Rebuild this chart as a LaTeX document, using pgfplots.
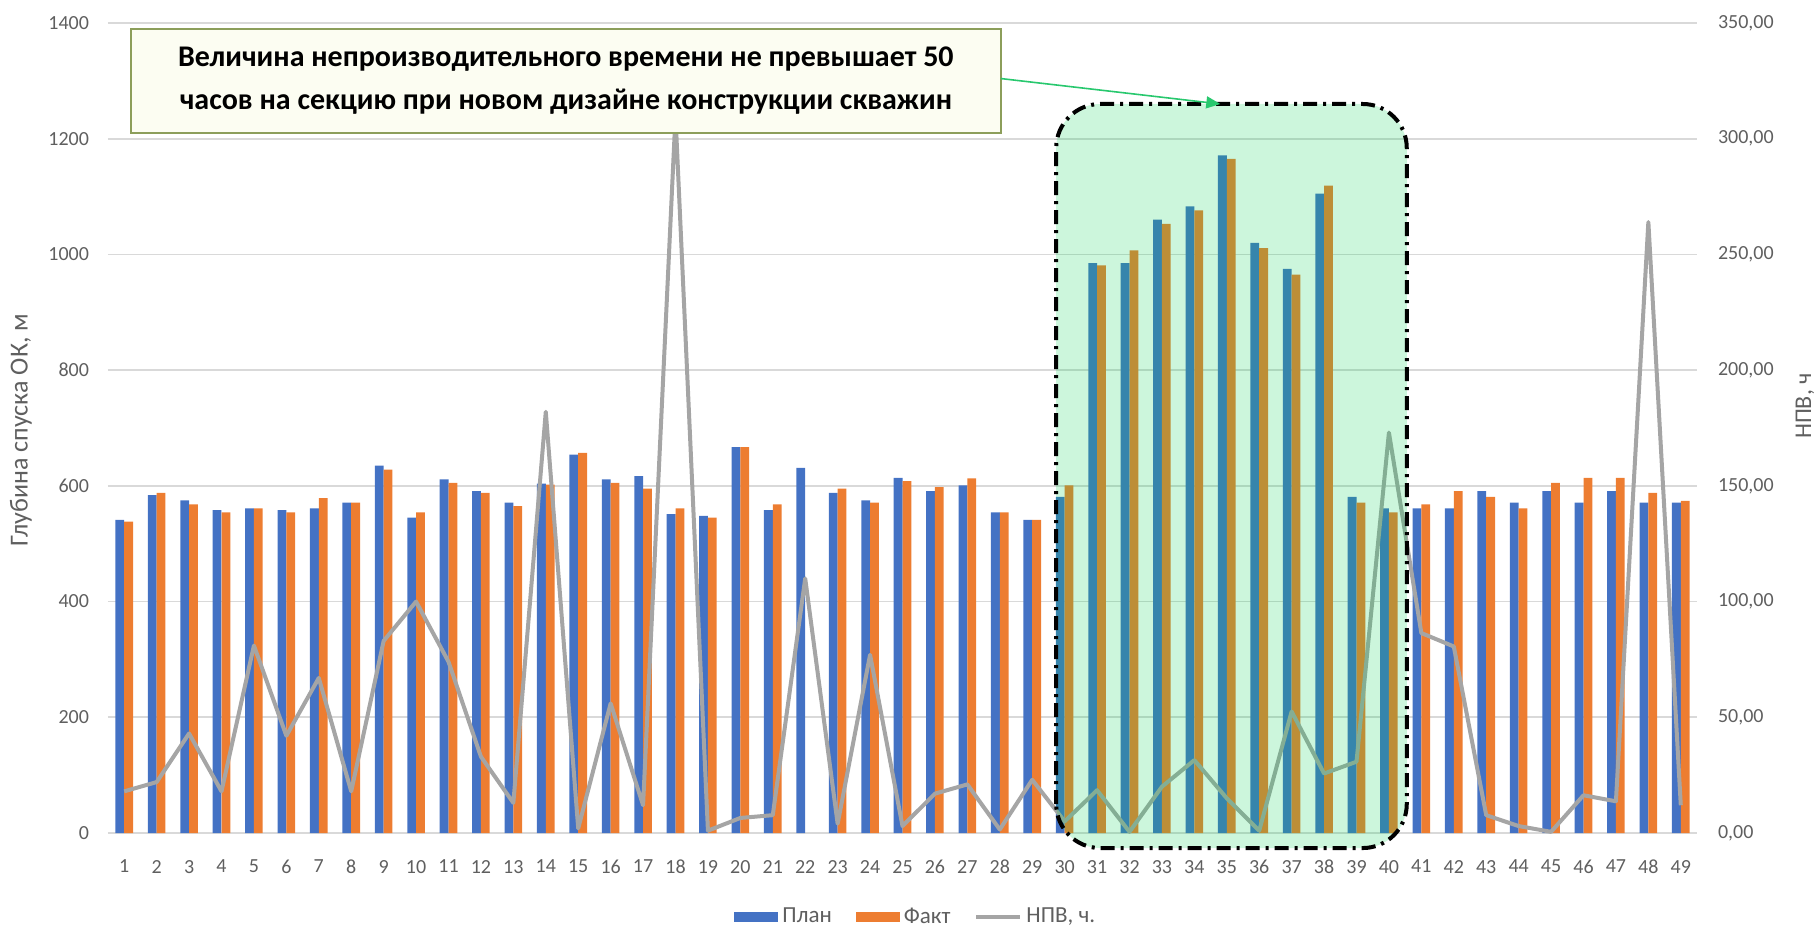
\documentclass[border=0pt]{standalone}
\usepackage{fontspec}
\setmainfont{Carlito}
\usepackage{pgfplots}
\pgfplotsset{compat=1.18}
\usepackage{pgfplotstable}
\usetikzlibrary{arrows.meta}

\definecolor{plan}{RGB}{68,114,196}
\definecolor{fakt}{RGB}{237,125,49}
\definecolor{npv}{RGB}{165,165,165}
\definecolor{gridc}{RGB}{217,217,217}
\definecolor{tickc}{RGB}{95,95,95}
\definecolor{hilite}{RGB}{0,210,80}
\definecolor{boxborder}{RGB}{140,158,90}
\definecolor{boxfill}{RGB}{252,253,242}
\definecolor{arrowc}{RGB}{40,200,110}

% n, plan / fact depth (m), NPV (h)
\pgfplotstableread{
n plan fakt npv
1 541 538 18
2 584 588 22
3 575 568 43
4 558 554 18
5 561 561 81
6 558 554 42
7 561 579 67
8 571 571 18
9 635 628 83
10 545 554 100
11 611 605 74
12 591 588 33
13 571 565 13
14 604 602 182
15 654 657 2
16 611 605 56
17 617 595 12
18 551 561 310
19 548 545 1
20 667 667 6.5
21 558 568 7.7
22 631 nan 110
23 588 595 4
24 575 571 77
25 614 608 3
26 591 598 17
27 601 613 21
28 554 554 1.5
29 541 541 23
30 581 601 5
31 985 981 18.5
32 985 1007 0.5
33 1060 1053 20
34 1083 1076 31.5
35 1171 1165 15
36 1020 1011 1
37 975 965 52.5
38 1105 1119 25.7
39 581 571 30.8
40 561 554 173
41 561 568 86.4
42 561 591 80.6
43 591 581 7.7
44 571 561 3
45 591 605 0.5
46 571 614 16.3
47 591 614 13.7
48 571 588 264
49 571 574 12
}\datatable

\begin{document}
\begin{tikzpicture}
\useasboundingbox (-54pt,-49.5pt) rectangle (856pt,416.5pt);

\begin{axis}[
    at={(0,0)}, anchor=south west,
    scale only axis, width=794.5pt, height=405pt,
    xmin=0.5, xmax=49.5, ymin=0, ymax=1400,
    xtick={1,...,49}, ytick={0,200,...,1400},
    ybar=0pt, bar width=4.4pt,
    axis line style={draw=none},
    major tick length=0pt,
    ymajorgrids, grid style={gridc, line width=0.8pt},
    tick label style={font=\fontsize{10}{12}\selectfont, text=tickc},
    xticklabel style={yshift=-10pt},
    yticklabel style={xshift=-6pt},
    /pgf/number format/assume math mode=true,
    /pgf/number format/1000 sep={},
    ylabel={Глубина спуска ОК, м},
    ylabel style={at={(axis description cs:-0.0548,0.4975)}, anchor=center,
        font=\fontsize{13}{15}\selectfont, text=tickc},
    legend style={at={(axis description cs:0.509,-0.1037)}, anchor=center,
        draw=none, fill=none, legend columns=3,
        font=\fontsize{11.5}{13}\selectfont, text=tickc,
        /tikz/every even column/.append style={column sep=10pt}},
]
\addplot[fill=plan, draw=none,
    legend image code/.code={\fill[plan] (0pt,-2.5pt) rectangle (22pt,2.5pt);}]
    table[x=n, y=plan]{\datatable};
\addlegendentry{План}
\addplot[fill=fakt, draw=none,
    legend image code/.code={\fill[fakt] (0pt,-2.5pt) rectangle (22pt,2.5pt);}]
    table[x=n, y=fakt]{\datatable};
\addlegendentry{Факт}
\addlegendimage{legend image code/.code={\draw[npv, line width=2pt] (0pt,0pt) -- (22pt,0pt);}}
\addlegendentry{НПВ, ч.}
\end{axis}

\begin{axis}[
    at={(0,0)}, anchor=south west,
    scale only axis, width=794.5pt, height=405pt,
    xmin=0.5, xmax=49.5, ymin=0, ymax=350,
    axis y line*=right, hide x axis,
    axis line style={draw=none},
    major tick length=0pt,
    ytick={0,50,...,350},
    tick label style={font=\fontsize{10}{12}\selectfont, text=tickc},
    yticklabel style={xshift=7pt, /pgf/number format/.cd, fixed, fixed zerofill,
        precision=2, use comma, assume math mode=true},
    ylabel={НПВ, ч},
    ylabel style={at={(axis description cs:1.068,0.527)}, anchor=center,
        font=\fontsize{12}{14}\selectfont, text=tickc},
    clip=false,
]
\addplot[npv, line width=2pt, line join=round, mark=none]
    table[x=n, y=npv]{\datatable};

% highlighted region
\fill[hilite, fill opacity=0.2, rounded corners=22pt]
    (axis cs:29.74,-6.5) rectangle (axis cs:40.55,315);
\draw[black, line width=2pt, dash pattern=on 7pt off 3pt on 1.5pt off 3pt,
    rounded corners=22pt]
    (axis cs:29.74,-6.5) rectangle (axis cs:40.55,315);

% annotation box
\draw[boxborder, fill=boxfill, line width=1pt]
    (axis cs:1.21,302.5) rectangle (axis cs:28.03,347.5);
\node[align=center, font=\fontsize{15}{21.5}\selectfont\bfseries, text=black]
    at (axis cs:14.62,325)
    {Величина непроизводительного времени не превышает 50\\
     часов на секцию при новом дизайне конструкции скважин};
\draw[arrowc, line width=0.8pt, -{Triangle[length=7pt,width=6pt]}]
    (axis cs:28.03,326) -- (axis cs:34.8,315);
\end{axis}
\end{tikzpicture}
\end{document}
